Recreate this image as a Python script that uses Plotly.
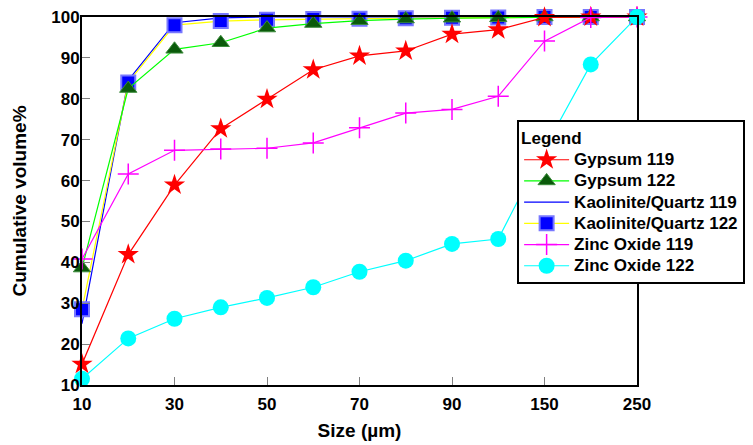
import plotly.graph_objects as go

sizes = ["10", "20", "30", "40", "50", "60", "70", "80", "90", "100", "150", "200", "250"]
x_tick_labels = ["10", "30", "50", "70", "90", "150", "250"]
y_ticks = [10, 20, 30, 40, 50, 60, 70, 80, 90, 100]

gypsum_119 = [15.1, 41.9, 58.9, 72.7, 79.9, 87.1, 90.5, 91.7, 95.8, 96.9, 99.9, 100, 100]
gypsum_122 = [38.6, 82.5, 92.1, 93.7, 97.3, 98.4, 99.1, 99.5, 99.7, 99.8, 100, 100, 100]
kaolinite_119 = [25.0, 84.5, 98.6, 99.8, 100, 100, 100, 100, 100, 100, 100, 100, 100]
kaolinite_122 = [28.5, 84.0, 98.0, 99.0, 99.3, 99.5, 99.6, 99.7, 99.8, 99.9, 100, 100, 100]
zinc_119 = [40.8, 61.6, 67.4, 67.7, 67.9, 69.2, 72.9, 76.5, 77.4, 80.6, 94.1, 99.9, 100]
zinc_122 = [11.5, 21.4, 26.2, 29.0, 31.3, 33.9, 37.7, 40.4, 44.5, 45.7, 67.8, 88.4, 100]

FONT = "Liberation Sans, Arial, Helvetica, sans-serif"


def legend_name(text):
    return "<span style='font-size:17px'>" + text + "</span>"


fig = go.Figure()

fig.add_trace(go.Scatter(
    x=sizes, y=kaolinite_119, name=legend_name("Kaolinite/Quartz 119"), legendrank=3,
    mode="lines", line=dict(color="#0000ff", width=1.2), cliponaxis=False))
fig.add_trace(go.Scatter(
    x=sizes, y=kaolinite_122, name=legend_name("Kaolinite/Quartz 122"), legendrank=4,
    mode="lines+markers", line=dict(color="#ffff00", width=1.2),
    marker=dict(symbol="square", size=14, color="#0000ff",
                line=dict(color="#7878ff", width=2)), cliponaxis=False))
fig.add_trace(go.Scatter(
    x=sizes, y=gypsum_122, name=legend_name("Gypsum 122"), legendrank=2,
    mode="lines+markers", line=dict(color="#00ff00", width=1.2),
    marker=dict(symbol="triangle-up", size=15, color="#0a5a0a",
                line=dict(color="#3c8c3c", width=1)), cliponaxis=False))
fig.add_trace(go.Scatter(
    x=sizes, y=gypsum_119, name=legend_name("Gypsum 119"), legendrank=1,
    mode="lines+markers", line=dict(color="#ff0000", width=1.2),
    marker=dict(symbol="star", size=16, color="#ff0000",
                line=dict(color="#ff0000", width=0)), cliponaxis=False))
fig.add_trace(go.Scatter(
    x=sizes, y=zinc_119, name=legend_name("Zinc Oxide 119"), legendrank=5,
    mode="lines+markers", line=dict(color="#ff00ff", width=1.2),
    marker=dict(symbol="cross-thin", size=15, color="#ff00ff",
                line=dict(color="#ff00ff", width=1.5)), cliponaxis=False))
fig.add_trace(go.Scatter(
    x=sizes, y=zinc_122, name=legend_name("Zinc Oxide 122"), legendrank=6,
    mode="lines+markers", line=dict(color="#00ffff", width=1.2),
    marker=dict(symbol="circle", size=16, color="#00ffff"), cliponaxis=False))

fig.update_layout(
    width=753, height=445,
    margin=dict(l=82, r=116, t=17, b=60, autoexpand=False),
    paper_bgcolor="white", plot_bgcolor="white",
    font=dict(family=FONT, size=17, color="black", weight="bold"),
    showlegend=True,
    legend=dict(
        title=dict(text="Legend", font=dict(family=FONT, size=17, weight="bold")),
        x=0.784, y=0.72, xanchor="left", yanchor="top",
        bgcolor="white", bordercolor="black", borderwidth=2,
        font=dict(family=FONT, size=14, weight="bold"),
        itemwidth=45, tracegroupgap=0,
    ),
)

fig.update_xaxes(
    type="category", categoryorder="array", categoryarray=sizes,
    range=[0, len(sizes) - 1], automargin=False,
    tickvals=x_tick_labels, ticktext=x_tick_labels,
    ticks="inside", ticklen=8, tickcolor="#808080", tickwidth=1,
    ticklabelstandoff=3,
    showline=True, linecolor="black", linewidth=2, mirror=True,
    showgrid=False, zeroline=False,
    tickfont=dict(family=FONT, size=17, weight="bold"),
    title=dict(text="Size (µm)", font=dict(family=FONT, size=19, weight="bold"), standoff=10),
)
fig.update_yaxes(
    range=[10, 100], tickvals=y_ticks, automargin=False,
    ticks="inside", ticklen=8, tickcolor="#808080", tickwidth=1,
    ticklabelstandoff=-3,
    showline=True, linecolor="black", linewidth=2, mirror=True,
    showgrid=False, zeroline=False,
    tickfont=dict(family=FONT, size=17, weight="bold"),
    title=dict(text="Cumulative volume%", font=dict(family=FONT, size=19, weight="bold"), standoff=20),
)

fig.write_html("out.html")
